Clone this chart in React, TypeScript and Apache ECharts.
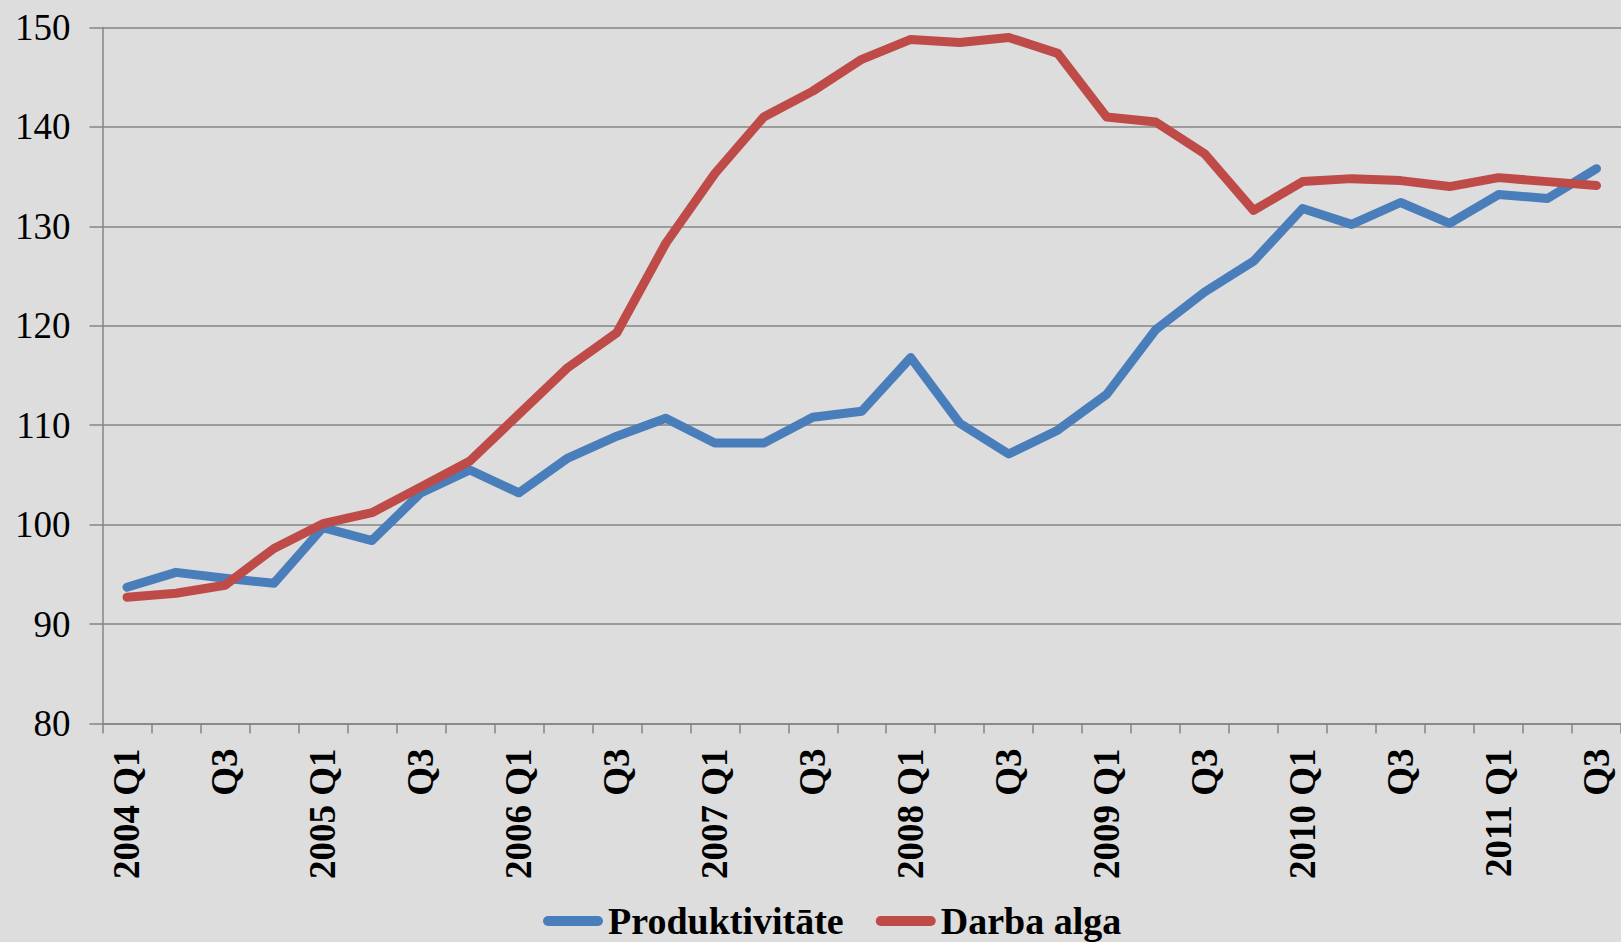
import React, { useEffect, useRef } from "react";
import * as echarts from "echarts";

const years = [2004, 2005, 2006, 2007, 2008, 2009, 2010, 2011];
const quarterCount = 31;
const categories: string[] = [];
for (let i = 0; i < quarterCount; i++) {
  const y = years[Math.floor(i / 4)];
  const q = (i % 4) + 1;
  categories.push(q === 1 ? `${y} Q1` : `Q${q}`);
}

const produktivitate = [
  93.7, 95.2, 94.6, 94.1, 99.7, 98.4, 103.2, 105.5, 103.2, 106.7, 108.9, 110.7,
  108.2, 108.2, 110.8, 111.4, 116.8, 110.2, 107.1, 109.5, 113.1, 119.6, 123.4,
  126.5, 131.8, 130.2, 132.4, 130.3, 133.2, 132.8, 135.8,
];
const darbaAlga = [
  92.7, 93.1, 93.9, 97.6, 100.1, 101.2, 103.8, 106.4, 111.1, 115.8, 119.3, 128.3,
  135.3, 141.0, 143.6, 146.8, 148.8, 148.5, 149.0, 147.4, 141.0, 140.5, 137.3,
  131.6, 134.5, 134.8, 134.6, 134.0, 134.9, 134.5, 134.1,
];
const seriesNames = ["Produktivitāte", "Darba alga"];
const seriesColors = ["#4A7EBB", "#BE4B48"];

const FONT = "'Liberation Serif', 'Times New Roman', serif";

export default function App() {
  const ref = useRef<HTMLDivElement>(null);
  useEffect(() => {
    if (!ref.current) return;
    const chart = echarts.init(ref.current, undefined, { renderer: "svg" });
    const axisGray = "#858585";
    chart.setOption({
      animation: false,
      backgroundColor: "#DDDDDD",
      grid: { left: 102.5, top: 27.5, width: 1525, height: 696, containLabel: false },
      legend: {
        left: 543,
        top: 902,
        padding: 0,
        itemGap: 32,
        itemWidth: 60,
        itemHeight: 10,
        icon: "path://M5,0 L55,0 A5,5 0 0 1 55,10 L5,10 A5,5 0 0 1 5,0 Z",
        textStyle: { fontFamily: FONT, fontWeight: "bold", fontSize: 38, color: "#000" },
        data: seriesNames,
      },
      xAxis: {
        type: "category",
        data: categories,
        boundaryGap: true,
        axisLine: { show: true, lineStyle: { color: axisGray, width: 1.5 } },
        axisTick: { show: true, interval: 0, length: 10, lineStyle: { color: axisGray, width: 1.5 } },
        axisLabel: {
          interval: 1,
          rotate: 90,
          margin: 25,
          fontFamily: FONT,
          fontWeight: "bold",
          fontSize: 37,
          color: "#000",
        },
        splitLine: { show: false },
      },
      yAxis: {
        type: "value",
        min: 80,
        max: 150,
        interval: 10,
        axisLine: { show: true, lineStyle: { color: axisGray, width: 1.5 } },
        axisTick: { show: true, length: 13, lineStyle: { color: axisGray, width: 1.5 } },
        axisLabel: { margin: 32, fontFamily: FONT, fontSize: 37, color: "#000" },
        splitLine: { show: true, lineStyle: { color: axisGray, width: 1.5 } },
      },
      series: [
        {
          name: seriesNames[0],
          type: "line",
          data: produktivitate,
          symbol: "none",
          color: seriesColors[0],
          lineStyle: { width: 9, color: seriesColors[0], cap: "round", join: "round" },
        },
        {
          name: seriesNames[1],
          type: "line",
          data: darbaAlga,
          symbol: "none",
          color: seriesColors[1],
          lineStyle: { width: 9, color: seriesColors[1], cap: "round", join: "round" },
        },
      ],
    });
    return () => chart.dispose();
  }, []);
  return (
    <div
      ref={ref}
      style={{ position: "absolute", left: 0, top: 0, width: 1621, height: 942 }}
    />
  );
}
